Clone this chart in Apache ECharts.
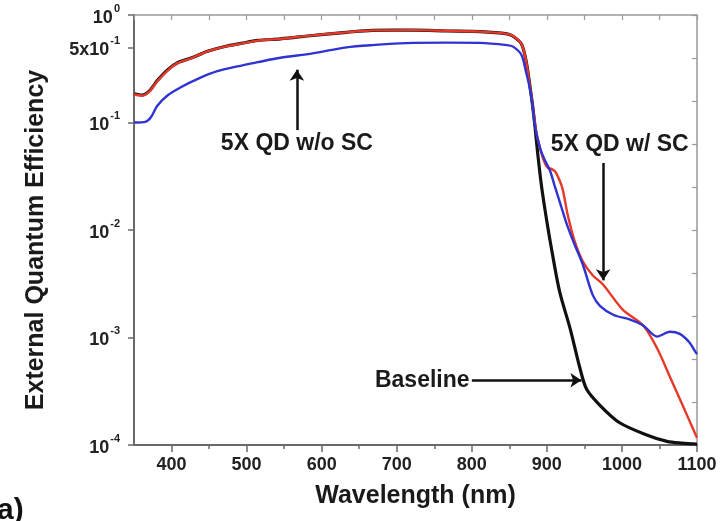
<!DOCTYPE html>
<html>
<head>
<meta charset="utf-8">
<script src="https://cdn.jsdelivr.net/npm/echarts@6/dist/echarts.min.js"></script>
<style>
html,body{margin:0;padding:0;background:#fff;}
#c{width:725px;height:521px;}
</style>
</head>
<body>
<div id="c"></div>
<script>
// ---- data ----
const baselineNm  = [350,361,371,381,395,408,427,448,471,493,515,545,588,633,668,721,767,811,847,855,866,872,877,881,884,888,893,900,907,917,931,944,953,971,997,1033,1060,1080,1100];
const baselineEqe = [0.185,0.18,0.198,0.245,0.31,0.36,0.40,0.46,0.51,0.545,0.58,0.60,0.645,0.69,0.72,0.722,0.71,0.70,0.668,0.635,0.54,0.384,0.23,0.143,0.094,0.05,0.0252,0.012,0.0062,0.00267,0.00121,0.00052,0.00033,0.000233,0.000161,0.000124,0.000108,0.000104,0.000102];

const withScNm  = [350,361,371,381,395,408,427,448,471,493,515,545,588,633,668,721,767,811,847,855,866,872,877,881,886,891,896,901,906,911,916,921,928,937,948,961,975,1001,1028,1047,1064,1081,1097,1100];
const withScEqe = [0.182,0.178,0.196,0.242,0.305,0.357,0.398,0.458,0.508,0.542,0.578,0.60,0.647,0.69,0.72,0.724,0.712,0.70,0.668,0.637,0.542,0.384,0.23,0.143,0.0815,0.0574,0.044,0.038,0.037,0.035,0.03,0.024,0.0136,0.0079,0.0051,0.0038,0.0031,0.00182,0.0013,0.00079,0.00043,0.000233,0.00013,0.000117];

const withoutScNm  = [350,366,373,381,395,413,435,461,488,515,545,588,633,668,721,767,811,847,855,866,872,877,881,884,891,897,904,910,918,927,937,948,961,971,989,1011,1028,1047,1064,1077,1090,1097,1100];
const withoutScEqe = [0.1,0.102,0.113,0.143,0.179,0.214,0.255,0.30,0.333,0.364,0.40,0.44,0.50,0.525,0.551,0.553,0.551,0.525,0.508,0.427,0.30,0.213,0.143,0.094,0.0574,0.045,0.036,0.0263,0.0175,0.0111,0.0073,0.00475,0.00249,0.00196,0.00162,0.00147,0.0013,0.00102,0.00113,0.00108,0.0009,0.00075,0.0007];

const xTickLabels = [400,500,600,700,800,900,1000,1100];
const xMinorTicks = [450,550,650,750,850,950,1050];
const yTickValues = [0.0001,0.001,0.01,0.1,0.5,1];

// annotations (data coordinates)
const noteWithout = {text:'5X QD w/o SC', x:567, textY:0.064, arrowFrom:0.085, arrowTo:0.31};
const noteWith    = {text:'5X QD w/ SC', textX:997, textY:0.062, x:975, arrowFrom:0.042, arrowTo:0.0034};
const noteBase    = {text:'Baseline', textX:734, y:0.0004, arrowFrom:800, arrowTo:946};

const FONT = '"Liberation Sans", Arial, sans-serif';
const zip = (a,b) => a.map((v,i)=>[v,b[i]]);

function yLabel(v){
  if (Math.abs(v-1) < 1e-9) return '{b|10}{s|0}';
  if (Math.abs(v-0.5) < 1e-9) return '{b|5x10}{s|-1}';
  return '{b|10}{s|' + Math.round(Math.log10(v)) + '}';
}

const chart = echarts.init(document.getElementById('c'), null, {renderer:'canvas'});
const axisGray = '#6a6a6a';
const lightGray = '#9a9a9a';

chart.setOption({
  animation:false,
  backgroundColor:'#fff',
  grid:{left:134,right:28,top:15,bottom:76,outerBoundsMode:'none'},
  xAxis:[
    {type:'value',min:350,max:1100,position:'bottom',
     name:'Wavelength (nm)',nameLocation:'middle',nameGap:39,
     nameTextStyle:{fontFamily:FONT,fontWeight:'bold',fontSize:25,color:'#1a1a1a'},
     axisLine:{show:true,lineStyle:{color:axisGray,width:2}},
     axisTick:{show:true,inside:false,length:7,customValues:xTickLabels,lineStyle:{color:axisGray,width:1.5}},
     axisLabel:{show:true,customValues:xTickLabels,margin:11,formatter:v=>String(v),
       fontFamily:FONT,fontWeight:'bold',fontSize:18,color:'#222'},
     splitLine:{show:false}},
    {type:'value',min:350,max:1100,position:'bottom',
     axisLine:{show:false},
     axisTick:{show:true,inside:false,length:4,customValues:xMinorTicks,lineStyle:{color:axisGray,width:1.5}},
     axisLabel:{show:false},splitLine:{show:false}},
    {type:'value',min:350,max:1100,interval:50,position:'top',
     axisLine:{show:true,lineStyle:{color:lightGray,width:1.5}},
     axisTick:{show:true,inside:true,length:5,lineStyle:{color:lightGray,width:1.2}},
     axisLabel:{show:false},splitLine:{show:false}}
  ],
  yAxis:[
    {type:'log',logBase:10,min:0.0001,max:1,position:'left',
     axisLine:{show:true,lineStyle:{color:axisGray,width:2}},
     axisTick:{show:true,inside:false,length:6,customValues:yTickValues,lineStyle:{color:axisGray,width:1.5}},
     axisLabel:{show:true,customValues:yTickValues,margin:14,formatter:yLabel,
       rich:{
         b:{fontFamily:FONT,fontWeight:'bold',fontSize:18,color:'#222',lineHeight:24,verticalAlign:'bottom'},
         s:{fontFamily:FONT,fontWeight:'bold',fontSize:11,color:'#222',lineHeight:24,verticalAlign:'top',padding:[0,0,0,1]}
       }},
     splitLine:{show:false},minorSplitLine:{show:false}},
    {type:'value',min:0,max:10,interval:1,position:'right',
     axisLine:{show:true,lineStyle:{color:lightGray,width:1.5}},
     axisTick:{show:true,inside:true,length:5,lineStyle:{color:lightGray,width:1.2}},
     axisLabel:{show:false},splitLine:{show:false}}
  ],
  series:[
    {name:'Baseline',type:'line',xAxisIndex:0,yAxisIndex:0,data:zip(baselineNm,baselineEqe),
     showSymbol:false,smooth:0.3,z:2,lineStyle:{color:'#111',width:3.2},itemStyle:{color:'#111'}},
    {name:'5X QD w/ SC',type:'line',xAxisIndex:0,yAxisIndex:0,data:zip(withScNm,withScEqe),
     showSymbol:false,smooth:0.3,z:3,lineStyle:{color:'#e8382a',width:2.4},itemStyle:{color:'#e8382a'}},
    {name:'5X QD w/o SC',type:'line',xAxisIndex:0,yAxisIndex:0,data:zip(withoutScNm,withoutScEqe),
     showSymbol:false,smooth:0.3,z:4,lineStyle:{color:'#2f33d2',width:2.4},itemStyle:{color:'#2f33d2'}},
    {name:'notes',type:'line',xAxisIndex:0,yAxisIndex:0,data:[],z:6,silent:true,
     markLine:{silent:true,symbol:['none','arrow'],symbolSize:11,animation:false,
       label:{show:false},
       lineStyle:{color:'#111',width:2.5,type:'solid'},
       data:[
         [{coord:[noteWithout.x,noteWithout.arrowFrom]},{coord:[noteWithout.x,noteWithout.arrowTo]}],
         [{coord:[noteWith.x,noteWith.arrowFrom]},{coord:[noteWith.x,noteWith.arrowTo]}],
         [{coord:[noteBase.arrowFrom,noteBase.y]},{coord:[noteBase.arrowTo,noteBase.y]}]
       ]},
     markPoint:{silent:true,symbol:'circle',symbolSize:1,itemStyle:{color:'rgba(0,0,0,0)'},animation:false,
       label:{show:true,position:'inside',formatter:'{b}',fontFamily:FONT,fontWeight:'bold',fontSize:23,color:'#1a1a1a'},
       data:[
         {name:noteWithout.text,coord:[noteWithout.x,noteWithout.textY]},
         {name:noteWith.text,coord:[noteWith.textX,noteWith.textY]},
         {name:noteBase.text,coord:[noteBase.textX,noteBase.y]}
       ]}
    }
  ],
  graphic:[
    {type:'text',x:36,y:240,rotation:Math.PI/2,
     style:{text:'External Quantum Efficiency',align:'center',verticalAlign:'middle',
       font:'bold 25px "Liberation Sans", Arial, sans-serif',fill:'#1a1a1a'}},
    {type:'text',left:-3,top:496,style:{text:'a)',font:'bold 30px "Liberation Sans", Arial, sans-serif',fill:'#111'}}
  ]
});
</script>
</body>
</html>
